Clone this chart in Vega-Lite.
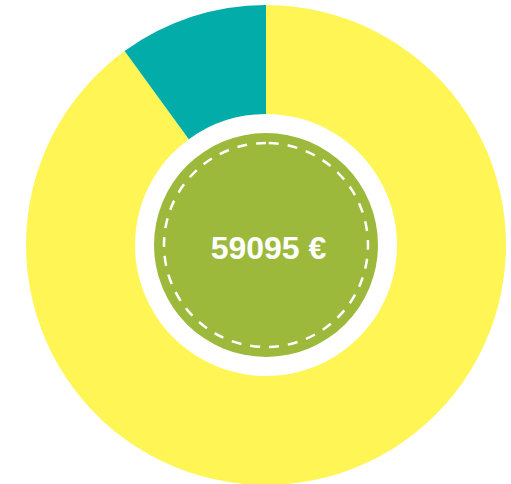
{
  "$schema": "https://vega.github.io/schema/vega-lite/v6.json",
  "width": 490,
  "height": 478,
  "autosize": {"type": "none"},
  "padding": {"left": 21, "top": 6, "right": 0, "bottom": 0},
  "background": "white",
  "config": {"view": {"stroke": null}},
  "datasets": {
    "parts": [
      {"part": "A", "amount": 53170, "rank": 1},
      {"part": "B", "amount": 5925, "rank": 2}
    ],
    "total": [{"label": "59095 €", "full": 1}]
  },
  "resolve": {"scale": {"theta": "independent"}},
  "layer": [
    {
      "data": {"name": "parts"},
      "mark": {"type": "arc", "outerRadius": 240, "innerRadius": 131},
      "encoding": {
        "theta": {"field": "amount", "type": "quantitative", "stack": true},
        "order": {"field": "rank", "type": "quantitative"},
        "color": {
          "field": "part",
          "type": "nominal",
          "scale": {"domain": ["A", "B"], "range": ["#FFF555", "#02ACA9"]},
          "legend": null
        }
      }
    },
    {
      "data": {"name": "total"},
      "layer": [
        {
          "mark": {"type": "arc", "outerRadius": 112, "innerRadius": 0, "color": "#9CB93C"},
          "encoding": {
            "theta": {"field": "full", "type": "quantitative", "stack": true}
          }
        },
        {
          "mark": {"type": "arc", "outerRadius": 102, "innerRadius": 0, "filled": false, "stroke": "white", "strokeWidth": 2.5, "strokeDash": [10, 9]},
          "encoding": {
            "theta": {"field": "full", "type": "quantitative", "stack": true}
          }
        },
        {
          "mark": {"type": "text", "font": "Liberation Sans", "fontWeight": "bold", "fontSize": 32, "color": "white", "align": "center", "baseline": "middle", "dx": 2.5, "dy": 4},
          "encoding": {
            "theta": {"field": "full", "type": "quantitative", "stack": true},
            "radius": {"value": 0},
            "text": {"field": "label", "type": "nominal"}
          }
        }
      ]
    }
  ]
}
